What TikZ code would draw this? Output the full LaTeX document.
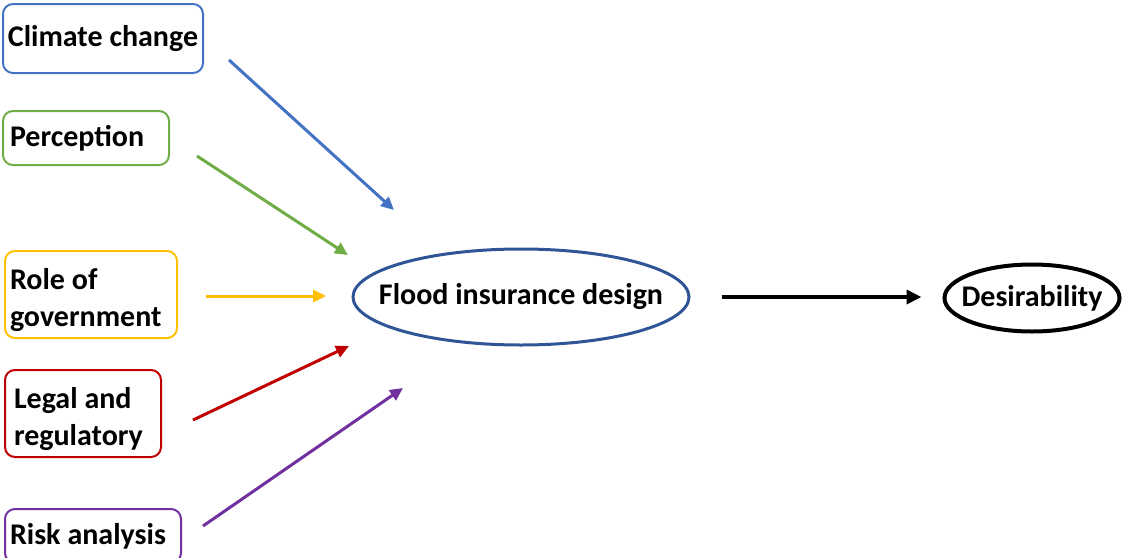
\documentclass[tikz,border=0pt]{standalone}
\usepackage{fontspec}
\setmainfont{Carlito}
\usetikzlibrary{shapes.geometric,arrows.meta,calc}

\definecolor{cblue}{HTML}{4472C4}
\definecolor{cgreen}{HTML}{70AD47}
\definecolor{cgold}{HTML}{FFC000}
\definecolor{cred}{HTML}{C00000}
\definecolor{cpurple}{HTML}{7030A0}
\definecolor{cnavy}{HTML}{2F5597}

\tikzset{
  factor/.style={draw, rounded corners=10pt, line width=2pt, align=left, inner xsep=7pt,
    font=\bfseries\fontsize{30}{35}\selectfont,
    execute at begin node={\spaceskip=0.23em plus 0.05em\relax}},
  twoline/.style={font=\bfseries\fontsize{30}{37}\selectfont,
    execute at begin node={\spaceskip=0.23em plus 0.05em\relax\rule{0pt}{33pt}}},
  oval/.style={ellipse, draw, inner ysep=0pt, font=\bfseries\fontsize{30}{35}\selectfont},
  link/.style={line width=3pt, -{Triangle[length=13pt,width=12pt]}}
}

\begin{document}
\begin{tikzpicture}[x=1pt,y=-1pt]
\clip (0,0) rectangle (1124,557);
\useasboundingbox (0,0) rectangle (1124,557);

%Factor boxes
\node [factor, cblue, text=black, minimum width=200, minimum height=69, inner xsep=3pt] (climate) at (103,38.5) {Climate change};
\node [factor, cgreen, text=black, minimum width=166, minimum height=54, text width=152] (percep) at (86,138) {Perception};
\node [factor, twoline, cgold, text=black, minimum width=172, minimum height=87, text width=162, inner xsep=5pt] (govern) at (91,294.5) {Role of\\government};
\node [factor, twoline, cred, text=black, minimum width=156, minimum height=87, text width=138, inner xsep=9pt] (legal) at (83,413.5) {Legal and\\regulatory};
\node [factor, cpurple, text=black, minimum width=176, minimum height=54, text width=166, inner xsep=5pt] (risk) at (93,536) {Risk analysis};

%Ovals
\node [oval, cnavy, line width=3pt, text=black, inner xsep=-24pt, minimum width=336, minimum height=96] (design) at (521,297) {Flood insurance design};
\node [oval, black, line width=4pt, inner xsep=-9pt, minimum width=175, minimum height=67] (desire) at (1032,298) {Desirability};

%Arrow ends
\coordinate (climate-out) at ($(climate.east)+(25,21.5)$);
\coordinate (percep-out) at ($(percep.east)+(27,18)$);
\coordinate (govern-out) at ($(govern.east)+(28,1.5)$);
\coordinate (legal-out) at ($(legal.east)+(31,6.5)$);
\coordinate (risk-out) at ($(risk.east)+(21,-10)$);
\coordinate (design-in1) at ($(design.center)+(-127,-87)$);
\coordinate (design-in2) at ($(design.center)+(-173,-42)$);
\coordinate (design-in3) at ($(design.center)+(-195,-1)$);
\coordinate (design-in4) at ($(design.center)+(-172,49)$);
\coordinate (design-in5) at ($(design.center)+(-118,91)$);
\coordinate (design-out) at ($(design.east)+(31,0)$);
\coordinate (desire-in) at ($(desire.west)+(-21,-1)$);

%Arrows
\draw [link, cblue] (climate-out) -- (design-in1);
\draw [link, cgreen] (percep-out) -- (design-in2);
\draw [link, cgold] (govern-out) -- (design-in3);
\draw [link, cred] (legal-out) -- (design-in4);
\draw [link, cpurple] (risk-out) -- (design-in5);
\draw [link, black, line width=4pt, -{Triangle[length=15pt,width=14pt]}] (design-out) -- (desire-in);

\end{tikzpicture}
\end{document}
